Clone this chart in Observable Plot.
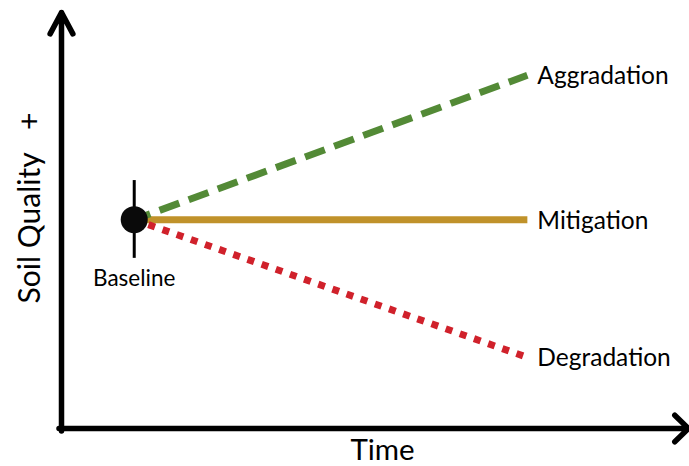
<!DOCTYPE html>
<html>
<head>
<meta charset="utf-8">
<script src="https://cdn.jsdelivr.net/npm/d3@7"></script>
<script src="https://cdn.jsdelivr.net/npm/@observablehq/plot@0.6"></script>
<style>
  html, body { margin: 0; padding: 0; background: #fff; }
  #chart svg { display: block; }
</style>
</head>
<body>
<div id="chart"></div>
<script>
// ---- data (conceptual chart: time 0..100, soil quality 0..100) ----
const seriesNames = ["Aggradation", "Mitigation", "Degradation"];
const seriesColors = ["#538a36", "#c0922a", "#d0212b"];
const startTime = 11.6;
const endTime = 74.3;
const baselineQuality = 50.2;
const endQuality = [84.9, 50.2, 17.1];
const baselineLabel = "Baseline";
const baselineTickRange = [40.9, 59.6];
const xAxisTitle = "Time";
const yAxisTitle = "Soil Quality   +";

// build table
const lines = seriesNames.flatMap((name, i) => [
  {series: name, time: startTime, quality: baselineQuality},
  {series: name, time: endTime, quality: endQuality[i]}
]);
const ends = seriesNames.map((name, i) => ({series: name, time: endTime, quality: endQuality[i]}));
const font = "Lato, 'Open Sans', sans-serif";

const chart = Plot.plot({
  width: 689,
  height: 466,
  marginTop: 0, marginRight: 0, marginBottom: 0, marginLeft: 0,
  x: {domain: [0, 100], range: [61, 688], axis: null},
  y: {domain: [0, 100], range: [428, 12], axis: null},
  style: {fontFamily: font, background: "#fff", color: "#000"},
  marks: [
    // axes with arrowheads
    Plot.arrow([{x1: 0, y1: -0.6, x2: 0, y2: 100}], {
      x1: "x1", y1: "y1", x2: "x2", y2: "y2",
      stroke: "#000", strokeWidth: 5.5, headAngle: 56, headLength: 6.6
    }),
    Plot.arrow([{x1: -0.4, y1: 0, x2: 100, y2: 0}], {
      x1: "x1", y1: "y1", x2: "x2", y2: "y2",
      stroke: "#000", strokeWidth: 5.5, headAngle: 88, headLength: 5.2
    }),
    // trajectories
    Plot.line(lines.filter(d => d.series === "Mitigation"), {
      x: "time", y: "quality", stroke: seriesColors[1], strokeWidth: 7, strokeLinecap: "butt"
    }),
    Plot.line(lines.filter(d => d.series === "Aggradation"), {
      x: "time", y: "quality", stroke: seriesColors[0], strokeWidth: 7,
      strokeLinecap: "butt", strokeDasharray: "21,10", strokeDashoffset: 4
    }),
    Plot.line(lines.filter(d => d.series === "Degradation"), {
      x: "time", y: "quality", stroke: seriesColors[2], strokeWidth: 7,
      strokeLinecap: "butt", strokeDasharray: "7,8", strokeDashoffset: 0
    }),
    // baseline marker
    Plot.ruleX([startTime], {x: d => d, y1: baselineTickRange[0], y2: baselineTickRange[1], stroke: "#000", strokeWidth: 3}),
    Plot.dot([{time: startTime, quality: baselineQuality}], {x: "time", y: "quality", r: 13.5, fill: "#0a0a0a", stroke: "none"}),
    Plot.text([baselineLabel], {x: startTime, y: 36.1, text: d => d, fontSize: 22.5, fill: "#000", textAnchor: "middle"}),
    // end labels
    Plot.text(ends, {x: "time", y: "quality", text: "series", textAnchor: "start", dx: 10, dy: 1, fontSize: 24.5, fill: "#000"}),
    // axis titles
    Plot.text([xAxisTitle], {x: 51.2, y: -5.4, text: d => d, fontSize: 29.5, fill: "#000"}),
    Plot.text([yAxisTitle], {x: -5.0, y: 53.0, text: d => d, fontSize: 30, rotate: -90, fill: "#000"})
  ]
});
document.getElementById("chart").appendChild(chart);
</script>
</body>
</html>
